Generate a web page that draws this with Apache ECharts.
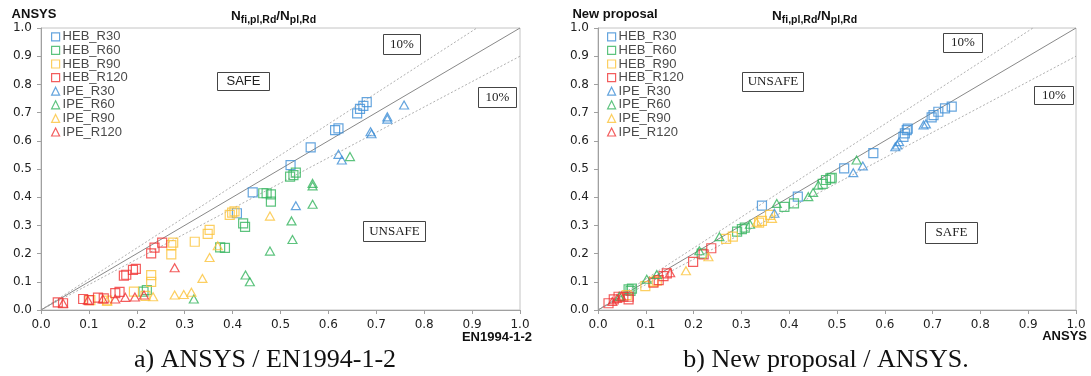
<!DOCTYPE html>
<html>
<head>
<meta charset="utf-8">
<script src="https://cdn.jsdelivr.net/npm/echarts@6/dist/echarts.min.js"></script>
<style>
  html, body { margin: 0; padding: 0; background: #fff; }
  #chart { width: 1091px; height: 376px; }
</style>
</head>
<body>
<div id="chart"></div>
<script>
// series names (legend order)
const categories = ["HEB_R30", "HEB_R60", "HEB_R90", "HEB_R120", "IPE_R30", "IPE_R60", "IPE_R90", "IPE_R120"];

// a) ANSYS (y) vs EN1994-1-2 (x)
const leftHEB30 = [[0.409, 0.343], [0.442, 0.417], [0.521, 0.514], [0.563, 0.577], [0.614, 0.638], [0.621, 0.644], [0.66, 0.697], [0.666, 0.713], [0.673, 0.724], [0.68, 0.737]];
const leftHEB60 = [[0.214, 0.065], [0.221, 0.071], [0.374, 0.222], [0.384, 0.22], [0.422, 0.307], [0.426, 0.295], [0.464, 0.414], [0.471, 0.414], [0.48, 0.41], [0.48, 0.384], [0.52, 0.473], [0.527, 0.478], [0.532, 0.487]];
const leftHEB90 = [[0.103, 0.035], [0.138, 0.033], [0.194, 0.065], [0.218, 0.05], [0.23, 0.1], [0.23, 0.124], [0.272, 0.197], [0.272, 0.23], [0.276, 0.239], [0.321, 0.242], [0.348, 0.27], [0.352, 0.284], [0.394, 0.337], [0.399, 0.345], [0.404, 0.35]];
const leftHEB120 = [[0.035, 0.027], [0.046, 0.024], [0.088, 0.039], [0.1, 0.035], [0.119, 0.044], [0.131, 0.041], [0.155, 0.06], [0.164, 0.064], [0.173, 0.122], [0.178, 0.125], [0.192, 0.142], [0.198, 0.146], [0.23, 0.201], [0.237, 0.221], [0.253, 0.239]];
const leftIPE30 = [[0.532, 0.37], [0.621, 0.552], [0.628, 0.532], [0.688, 0.632], [0.69, 0.625], [0.723, 0.685], [0.723, 0.677], [0.758, 0.727]];
const leftIPE60 = [[0.319, 0.039], [0.427, 0.124], [0.436, 0.1], [0.478, 0.209], [0.523, 0.316], [0.525, 0.25], [0.567, 0.375], [0.567, 0.449], [0.567, 0.44], [0.645, 0.544]];
const leftIPE90 = [[0.138, 0.032], [0.234, 0.047], [0.279, 0.053], [0.298, 0.055], [0.314, 0.063], [0.337, 0.112], [0.352, 0.186], [0.369, 0.228], [0.478, 0.333]];
const leftIPE120 = [[0.046, 0.024], [0.098, 0.035], [0.129, 0.039], [0.155, 0.039], [0.176, 0.045], [0.196, 0.046], [0.215, 0.053], [0.279, 0.15]];

// b) New proposal (y) vs ANSYS (x)
const rightHEB30 = [[0.343, 0.37], [0.418, 0.402], [0.515, 0.502], [0.576, 0.556], [0.639, 0.614], [0.642, 0.626], [0.646, 0.638], [0.648, 0.643], [0.698, 0.683], [0.702, 0.691], [0.712, 0.703], [0.726, 0.715], [0.74, 0.721]];
const rightHEB60 = [[0.064, 0.073], [0.071, 0.076], [0.068, 0.068], [0.217, 0.2], [0.291, 0.278], [0.301, 0.287], [0.307, 0.292], [0.39, 0.366], [0.41, 0.378], [0.47, 0.447], [0.477, 0.461], [0.486, 0.467], [0.489, 0.469]];
const rightHEB90 = [[0.06, 0.053], [0.099, 0.085], [0.116, 0.1], [0.123, 0.104], [0.268, 0.252], [0.282, 0.26], [0.337, 0.31], [0.343, 0.316], [0.36, 0.337]];
const rightHEB120 = [[0.022, 0.024], [0.033, 0.038], [0.043, 0.047], [0.053, 0.047], [0.064, 0.047], [0.064, 0.038], [0.116, 0.097], [0.127, 0.106], [0.137, 0.12], [0.144, 0.13], [0.199, 0.171], [0.221, 0.197], [0.237, 0.219]];
const rightIPE30 = [[0.369, 0.343], [0.534, 0.487], [0.554, 0.511], [0.622, 0.579], [0.626, 0.585], [0.63, 0.597], [0.681, 0.656], [0.686, 0.66]];
const rightIPE60 = [[0.045, 0.048], [0.102, 0.109], [0.123, 0.126], [0.212, 0.21], [0.254, 0.26], [0.318, 0.304], [0.374, 0.378], [0.44, 0.402], [0.45, 0.417], [0.461, 0.443], [0.541, 0.532]];
const rightIPE90 = [[0.184, 0.139], [0.231, 0.189], [0.332, 0.311], [0.364, 0.325]];
const rightIPE120 = [[0.03, 0.03], [0.04, 0.041], [0.049, 0.049], [0.151, 0.132]];

// reference lines: equality and +/-10 %
const equalLine = [[0, 0], [1, 1]];
const upperLine = [[0, 0], [0.91, 1]];
const lowerLine = [[0, 0], [1, 0.9]];

const leftSets = [leftHEB30, leftHEB60, leftHEB90, leftHEB120, leftIPE30, leftIPE60, leftIPE90, leftIPE120];
const rightSets = [rightHEB30, rightHEB60, rightHEB90, rightHEB120, rightIPE30, rightIPE60, rightIPE90, rightIPE120];

const colors = ["#3f8fd6", "#35b45e", "#fbc33a", "#f03434"];
const sans = "'Liberation Sans', Arial, sans-serif";
const serif = "'Liberation Serif', 'Times New Roman', serif";

const chart = echarts.init(document.getElementById("chart"));

function scatter(name, i, data, g) {
  const rect = i < 4;
  return {
    name, type: "scatter", xAxisIndex: g, yAxisIndex: g, data,
    symbol: rect ? "rect" : "triangle",
    symbolSize: rect ? 9 : [9, 8],
    itemStyle: { color: "rgba(255,255,255,0)", borderColor: colors[i % 4], borderWidth: 1.2 },
    z: 3,
  };
}

function refLine(data, g, dotted) {
  return {
    type: "line", xAxisIndex: g, yAxisIndex: g, data, symbol: "none", silent: true, z: 2,
    lineStyle: dotted ? { color: "#9a9a9a", width: 0.8, type: [2, 2] } : { color: "#7a7a7a", width: 0.9 },
  };
}

function axis(g) {
  return {
    type: "value", gridIndex: g, min: 0, max: 1, interval: 0.1,
    axisLine: { lineStyle: { color: "#a0a0a0" } },
    axisTick: { show: true, length: 4, lineStyle: { color: "#a0a0a0" } },
    axisLabel: { color: "#222", fontSize: 12, fontFamily: "'DejaVu Sans', sans-serif", margin: 9, formatter: (v) => v.toFixed(1) },
    splitLine: { show: false },
  };
}

function annot(x, y, w, h, label, font) {
  return {
    type: "group", left: x, top: y, z: 10,
    children: [
      { type: "rect", shape: { x: 0, y: 0, width: w, height: h }, style: { fill: "#fff", stroke: "#444", lineWidth: 1 } },
      { type: "text", x: w / 2, y: h / 2, style: { text: label, font, fill: "#222", align: "center", verticalAlign: "middle" } },
    ],
  };
}

function ratioTitle(x) {
  return {
    type: "text", left: x, top: 6, z: 10,
    style: {
      text: "{n|N}{s|fi,pl,Rd}{n|/N}{s|pl,Rd}",
      rich: {
        n: { fontSize: 13.5, fontWeight: "bold", fontFamily: sans, fill: "#111", lineHeight: 14 },
        s: { fontSize: 10.5, fontWeight: "bold", fontFamily: sans, fill: "#111", lineHeight: 11, padding: [9, 0, 0, 0] },
      },
    },
  };
}

function plainText(x, y, text, font, align) {
  return { type: "text", x, y, z: 10, style: { text, font, fill: "#111", align: align || "left", verticalAlign: "middle" } };
}

const legendBase = {
  orient: "vertical", itemWidth: 8, itemHeight: 8, itemGap: 0,
  textStyle: { color: "#4a4a4a", fontSize: 13, fontFamily: sans, lineHeight: 13.6, padding: [0, 0, 0, -2] },
  itemStyle: { borderWidth: 1.2 },
  data: categories,
};

const series = [];
[0, 1].forEach((g) => {
  series.push(refLine(equalLine, g, false), refLine(upperLine, g, true), refLine(lowerLine, g, true));
});
categories.forEach((name, i) => series.push(scatter(name, i, leftSets[i], 0)));
categories.forEach((name, i) => series.push(scatter(name, i, rightSets[i], 1)));

chart.setOption({
  backgroundColor: "#fff",
  animation: false,
  grid: [
    { left: 41, right: 571, top: 28, bottom: 66, show: true, borderColor: "#c4c4c4", borderWidth: 1 },
    { left: 598, right: 15, top: 28, bottom: 66, show: true, borderColor: "#c4c4c4", borderWidth: 1 },
  ],
  xAxis: [axis(0), axis(1)],
  yAxis: [axis(0), axis(1)],
  legend: [
    Object.assign({}, legendBase, { left: 46, top: 25 }),
    Object.assign({}, legendBase, { left: 602, top: 25 }),
  ],
  graphic: [
    plainText(34, 14, "ANSYS", "bold 13px " + sans, "center"),
    plainText(615, 14, "New proposal", "bold 13px " + sans, "center"),
    plainText(532, 337, "EN1994-1-2", "bold 13px " + sans, "right"),
    plainText(1087, 336, "ANSYS", "bold 13px " + sans, "right"),
    ratioTitle(231),
    ratioTitle(772),
    plainText(265, 360, "a) ANSYS / EN1994-1-2", "26px " + serif, "center"),
    plainText(826, 360, "b) New proposal / ANSYS.", "26px " + serif, "center"),
    annot(217, 72, 52, 18, "SAFE", "13px " + sans),
    annot(383, 34, 37, 20, "10%", "13px " + serif),
    annot(478, 87, 38, 20, "10%", "13px " + serif),
    annot(363, 221, 62, 20, "UNSAFE", "13px " + serif),
    annot(742, 72, 61, 19, "UNSAFE", "13px " + serif),
    annot(943, 33, 39, 19, "10%", "13px " + serif),
    annot(1034, 86, 39, 18, "10%", "13px " + serif),
    annot(925, 222, 52, 21, "SAFE", "13px " + serif),
  ],
  series,
});
</script>
</body>
</html>
